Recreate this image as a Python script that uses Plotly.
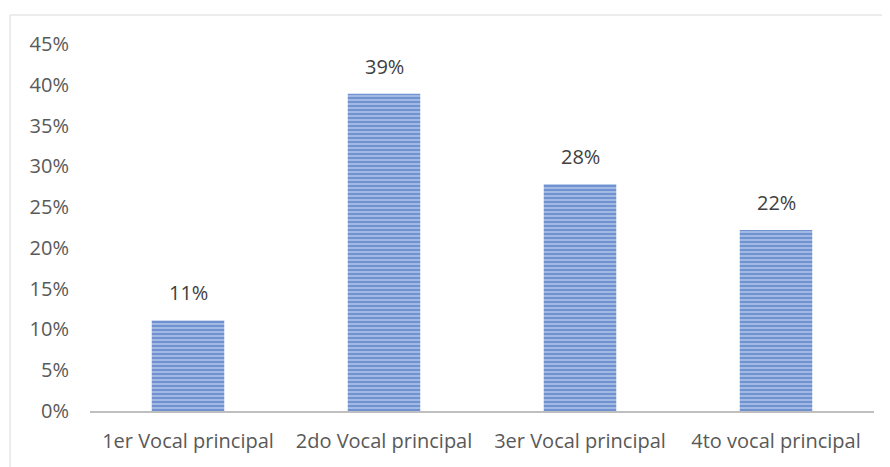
import plotly.graph_objects as go

categories = ["1er Vocal principal", "2do Vocal principal", "3er Vocal principal", "4to vocal principal"]
values = [0.111, 0.389, 0.278, 0.222]
tick_vals = [0, 0.05, 0.10, 0.15, 0.20, 0.25, 0.30, 0.35, 0.40, 0.45]

FONT = "Open Sans"
FS = 20

fig = go.Figure(go.Bar(
    x=categories, y=values,
    width=0.37,
    marker=dict(
        color="#A3BAE5",
        line=dict(width=0),
        pattern=dict(shape="-", fgcolor="#3A66BC", bgcolor="#A8BEE6", size=4, solidity=0.55),
    ),
    cliponaxis=False,
))

for c, v in zip(categories, values):
    fig.add_annotation(x=c, y=v, text=f"{v:.0%}", showarrow=False,
                       yanchor="bottom", yshift=12,
                       font=dict(size=FS, color="#404040", family=FONT))

fig.update_layout(
    width=890, height=467,
    margin=dict(l=82, r=24, t=36, b=64),
    paper_bgcolor="white", plot_bgcolor="white",
    showlegend=False,
    font=dict(family=FONT, size=FS, color="#595959"),
    bargap=0.63,
    shapes=[dict(type="rect", xref="paper", yref="paper",
                 x0=-0.102, x1=1.1, y0=-0.3, y1=1.079,
                 line=dict(color="#D9D9D9", width=1), fillcolor="rgba(0,0,0,0)", layer="below")],
)
fig.update_yaxes(range=[0, 0.45], tickvals=tick_vals, tickformat=".0%",
                 showgrid=False, zeroline=False, showline=False,
                 ticklabelstandoff=20, tickfont=dict(size=FS, color="#595959"))
fig.update_xaxes(showline=True, linecolor="#BFBFBF", linewidth=2, showgrid=False,
                 ticks="", ticklabelstandoff=11, tickfont=dict(size=FS, color="#595959"))

fig.write_html("out.html")
